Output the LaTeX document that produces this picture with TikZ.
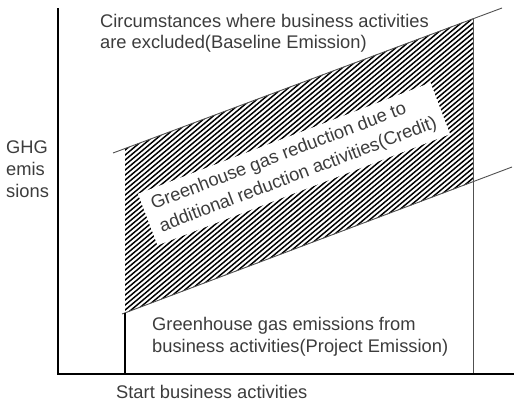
\documentclass[tikz,border=0pt]{standalone}
\usepackage{fontspec}
\setmainfont{Liberation Sans}
\definecolor{txt}{HTML}{3C3C3C}
\definecolor{ln}{HTML}{505050}
\begin{document}
\begin{tikzpicture}[x=1pt,y=-1pt,
  lbl/.style={anchor=base west,inner sep=0pt,text=txt,font=\fontsize{18.3}{22}\selectfont},
  axis/.style={draw=black,line width=1.1pt},
  guide/.style={draw=ln,line width=0.9pt},
  hatch/.style={draw=black,line width=1.45pt}]
\useasboundingbox (0,0) rectangle (519,407);
% key coordinates
\coordinate (ytop) at (58,8);
\coordinate (orig) at (58,374);
\coordinate (xend) at (514,374);
\coordinate (ul) at (125,148.5);
\coordinate (ur) at (473,18.5);
\coordinate (lr) at (473,182);
\coordinate (ll) at (125,313);
\coordinate (ustart) at (113,153);
\coordinate (uend) at (502,8);
\coordinate (lstart) at (122,314);
\coordinate (lend) at (512,167);
\coordinate (sb) at (125,374);
\coordinate (eb) at (473,374);
% hatching
\begin{scope}
\clip (ul) -- (ur) -- (lr) -- (ll) -- cycle;
\foreach \b in {245,250,...,590}{
  \draw[hatch] (0,\b) -- (600,\b-503.5);
}
\end{scope}
% white label box
\node[fill=white,rotate=20.8,align=left,inner xsep=9pt,inner ysep=7pt,
  text=txt,font=\fontsize{18.3}{24}\selectfont] (credit) at (294,164)
  {Greenhouse gas reduction due to\\additional reduction activities(Credit)};
% lines
\draw[guide] (ustart) -- (uend);
\draw[guide] (lstart) -- (lend);
\draw[axis] (ll) -- (sb);
\draw[guide] (ur) -- (eb);
\draw[axis] (ytop) -- (orig) -- (xend);
% labels
\node[lbl] (base1) at (100,27) {Circumstances where business activities};
\node[lbl] (base2) at (100,48.5) {are excluded(Baseline Emission)};
\node[lbl] (ghg1) at (6,153) {GHG};
\node[lbl] (ghg2) at (6,175) {emis};
\node[lbl] (ghg3) at (6,197) {sions};
\node[lbl] (proj1) at (152,330) {Greenhouse gas emissions from};
\node[lbl] (proj2) at (152,352) {business activities(Project Emission)};
\node[lbl] (start) at (116,398) {Start business activities};
\end{tikzpicture}
\end{document}
